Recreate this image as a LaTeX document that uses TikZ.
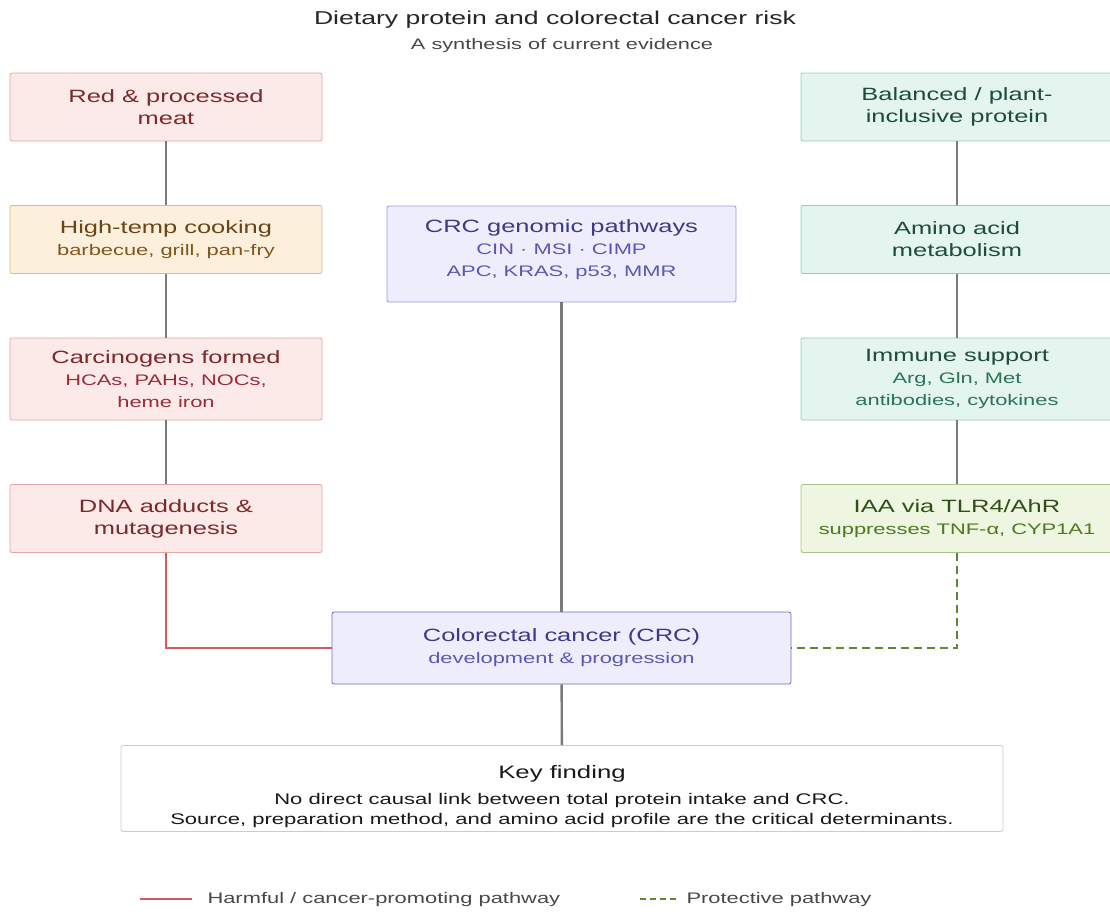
\documentclass[tikz,border=0pt]{standalone}
\usepackage{fontspec}
\setmainfont{Liberation Sans}[FakeStretch=1.43]
\usepackage{xcolor}
\usetikzlibrary{calc}

\definecolor{harmbg}{HTML}{FCEAE8}
\definecolor{harmbd}{HTML}{E2A4A6}
\definecolor{harmtx}{HTML}{7A2A2C}
\definecolor{harmsub}{HTML}{9A2C3A}
\definecolor{cookbg}{HTML}{FCF0DC}
\definecolor{cookbd}{HTML}{DDBA8C}
\definecolor{cooktx}{HTML}{6A4414}
\definecolor{cooksub}{HTML}{80561C}
\definecolor{crcbg}{HTML}{EEEDFC}
\definecolor{crcbd}{HTML}{9C9AE0}
\definecolor{crcdark}{HTML}{6D6AC6}
\definecolor{crctx}{HTML}{3C3A86}
\definecolor{crcsub}{HTML}{5A58B4}
\definecolor{protbg}{HTML}{E3F5EE}
\definecolor{protbd}{HTML}{94CEB8}
\definecolor{prottx}{HTML}{1E4C3B}
\definecolor{protsub}{HTML}{2A7456}
\definecolor{iaabg}{HTML}{EEF5E0}
\definecolor{iaabd}{HTML}{A9C48A}
\definecolor{iaatx}{HTML}{2F5018}
\definecolor{iaasub}{HTML}{4C7A20}
\definecolor{harmln}{HTML}{D9585C}
\definecolor{protln}{HTML}{5A8A30}
\definecolor{connln}{HTML}{7A7A7A}

% smaller second-line text in a box
\newcommand{\subl}[2]{{\fontsize{15.3}{21}\selectfont\color{#1}#2}}

\tikzset{
    box/.style={rectangle, rounded corners=2pt, minimum width=312pt, minimum height=68pt,
        align=center, line width=0.8pt, font=\fontsize{17.8}{22}\selectfont},
    harmbox/.style={box, fill=harmbg, draw=harmbd, text=harmtx},
    cookbox/.style={box, fill=cookbg, draw=cookbd, text=cooktx},
    crcbox/.style={box, fill=crcbg, draw=crcbd, text=crctx},
    protbox/.style={box, fill=protbg, draw=protbd, text=prottx},
    iaabox/.style={box, fill=iaabg, draw=iaabd, text=iaatx},
    conn/.style={draw=connln, line width=2.4pt},
    harmline/.style={draw=harmln, line width=1.8pt},
    protline/.style={draw=protln, line width=1.8pt, dash pattern=on 8pt off 5pt},
    legtext/.style={anchor=west, font=\fontsize{15.3}{18}\selectfont, text=black!72},
}

\begin{document}
\begin{tikzpicture}[x=1pt,y=-1pt]
    \useasboundingbox (0,0) rectangle (1110,911);

    % title
    \node[font=\fontsize{18.6}{22}\selectfont, text=black!85] (title) at (555,20) {Dietary protein and colorectal cancer risk};
    \node[font=\fontsize{15.2}{18}\selectfont, text=black!72] (subtitle) at (562,46) {A synthesis of current evidence};

    % harmful column
    \node[harmbox] (meat) at (166,107) {Red \& processed\\meat};
    \node[cookbox] (cook) at (166,239.5) {High-temp cooking\\\subl{cooksub}{barbecue, grill, pan-fry}};
    \node[harmbox, minimum height=82pt] (carc) at (166,379) {Carcinogens formed\\\subl{harmsub}{HCAs, PAHs, NOCs,}\\\subl{harmsub}{heme iron}};
    \node[harmbox] (dna) at (166,518.5) {DNA adducts \&\\mutagenesis};

    % protective column
    \node[protbox] (plant) at (957,107) {Balanced / plant-\\inclusive protein};
    \node[protbox] (amino) at (957,239.5) {Amino acid\\metabolism};
    \node[protbox, minimum height=82pt] (immune) at (957,379) {Immune support\\\subl{protsub}{Arg, Gln, Met}\\\subl{protsub}{antibodies, cytokines}};
    \node[iaabox] (iaa) at (957,518.5) {IAA via TLR4/AhR\\\subl{iaasub}{suppresses TNF-α, CYP1A1}};

    % centre
    \node[crcbox, minimum width=349pt, minimum height=96pt] (genomic) at (561.5,254) {CRC genomic pathways\\\subl{crcsub}{CIN · MSI · CIMP}\\\subl{crcsub}{APC, KRAS, p53, MMR}\rule[-11pt]{0pt}{11pt}};
    \node[crcbox, draw=crcdark, minimum width=459pt, minimum height=72pt] (crc) at (561.5,648) {Colorectal cancer (CRC)\\\subl{crcsub}{development \& progression}};

    % key finding
    \node[box, draw=black!20, fill=white, text=black!90, minimum width=882pt, minimum height=85pt,
        font=\fontsize{15.4}{20.5}\selectfont] (key) at (562,788.5)
        {\rule{0pt}{30pt}{\fontsize{18}{20}\selectfont Key finding}\\[5pt]
        No direct causal link between total protein intake and CRC.\\
        Source, preparation method, and amino acid profile are the critical determinants.};

    % connectors
    \draw[conn] (meat) -- (cook);
    \draw[conn] (cook) -- (carc);
    \draw[conn] (carc) -- (dna);
    \draw[conn] (plant) -- (amino);
    \draw[conn] (amino) -- (immune);
    \draw[conn] (immune) -- (iaa);
    \draw[conn] (genomic) -- (crc);
    \draw[conn] (crc) -- (key);
    \draw[harmline] (dna.south) |- (crc.west);
    \draw[protline] (iaa.south) |- (crc.east);

    % legend
    \coordinate (harmA) at (140,899);
    \coordinate (harmB) at (192,899);
    \coordinate (protA) at (640,899);
    \coordinate (protB) at (676,899);
    \draw[harmline] (harmA) -- (harmB);
    \draw[protline, dash pattern=on 6pt off 4pt] (protA) -- (protB);
    \node[legtext] (harmlbl) at ($(harmB)+(12,1)$) {Harmful / cancer-promoting pathway};
    \node[legtext] (protlbl) at ($(protB)+(7,1)$) {Protective pathway};
\end{tikzpicture}
\end{document}
